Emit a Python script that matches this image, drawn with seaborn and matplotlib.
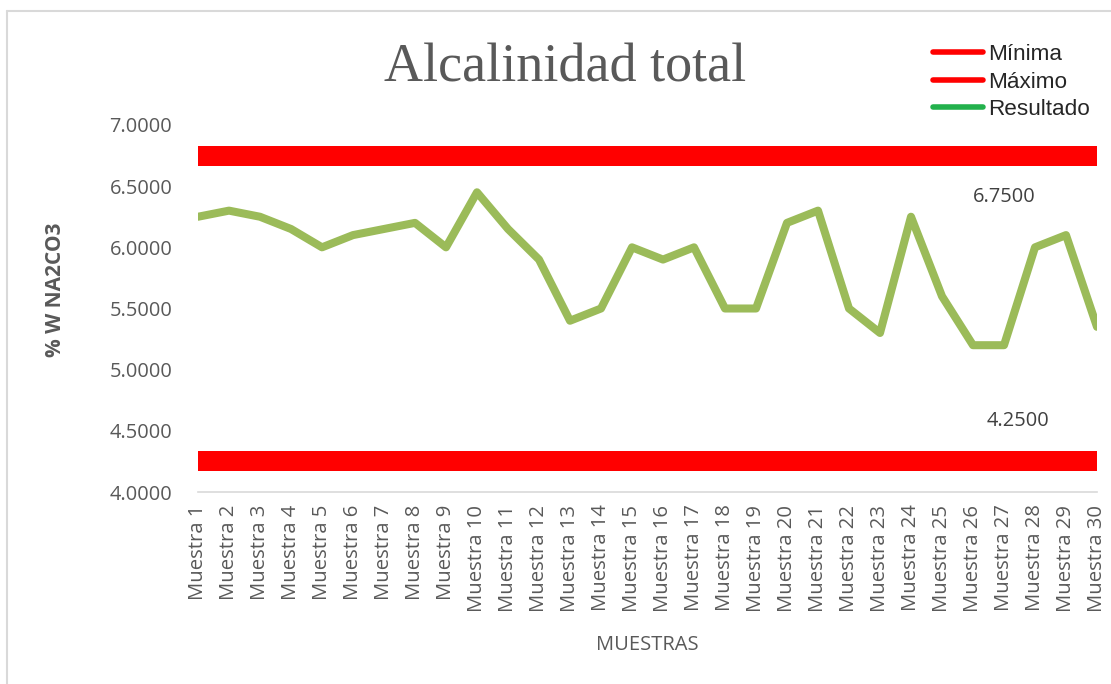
import numpy as np
import pandas as pd
import matplotlib
matplotlib.use("Agg")
import matplotlib.pyplot as plt
from matplotlib.lines import Line2D
import seaborn as sns

muestras = [f"Muestra {i}" for i in range(1, 31)]
resultado = [6.25, 6.30, 6.25, 6.15, 6.00, 6.10, 6.15, 6.20, 6.00, 6.45,
             6.15, 5.90, 5.40, 5.50, 6.00, 5.90, 6.00, 5.50, 5.50, 6.20,
             6.30, 5.50, 5.30, 6.25, 5.60, 5.20, 5.20, 6.00, 6.10, 5.35]
minima = 4.25
maximo = 6.75
yticks = [4.0, 4.5, 5.0, 5.5, 6.0, 6.5, 7.0]

df = pd.DataFrame({"pos": np.arange(len(muestras)), "muestra": muestras,
                   "resultado": resultado})
df["minima"] = minima
df["maximo"] = maximo

sns.set_style("white")
plt.rcParams["font.family"] = ["Open Sans", "DejaVu Sans"]

gray = "#595959"
fig = plt.figure(figsize=(11.11, 6.84), dpi=100)
ax = fig.add_axes([198 / 1111, 1 - 492 / 684, (1097 - 198) / 1111, 367 / 684])

sns.lineplot(data=df, x="pos", y="maximo", ax=ax, color="#ff0000",
             linewidth=14.4, solid_capstyle="butt")
sns.lineplot(data=df, x="pos", y="minima", ax=ax, color="#ff0000",
             linewidth=14.4, solid_capstyle="butt")
sns.lineplot(data=df, x="pos", y="resultado", ax=ax, color="#9bbb59",
             linewidth=5.8, solid_joinstyle="round", solid_capstyle="round")

ax.set_xlim(0, len(muestras) - 1)
ax.set_ylim(4, 7)
ax.set_yticks(yticks)
ax.set_yticklabels([f"{v:.4f}" for v in yticks], fontsize=14.4, color=gray)
ax.set_xticks(df["pos"])
ax.set_xticklabels(muestras, rotation=90, fontsize=14.6, color=gray)
ax.tick_params(axis="y", length=0, pad=18.5)
ax.tick_params(axis="x", length=0, pad=9)

for s in ["top", "right", "left"]:
    ax.spines[s].set_visible(False)
ax.spines["bottom"].set_color("#d9d9d9")
ax.spines["bottom"].set_linewidth(1.2)

ax.set_ylabel("% W NA2CO3", fontsize=15, fontweight="bold", color=gray, va="center")
ax.yaxis.set_label_coords(-0.1585, 0.55)
ax.set_xlabel("MUESTRAS", fontsize=14.5, color=gray, va="center")
ax.xaxis.set_label_coords(0.5, -0.417)

ax.annotate(f"{maximo:.4f}", xy=(26, maximo), xytext=(0, -29.5),
            textcoords="offset points", ha="center", va="center",
            fontsize=14.4, color="#404040")
ax.annotate(f"{minima:.4f}", xy=(26, minima), xytext=(10, 29),
            textcoords="offset points", ha="center", va="center",
            fontsize=14.4, color="#404040")

fig.text(565 / 1111, 1 - 82 / 684, "Alcalinidad total", ha="center",
         va="baseline", fontsize=39, color=gray, family="Liberation Serif")

handles = [Line2D([], [], color="#ff0000", linewidth=4, solid_capstyle="round"),
           Line2D([], [], color="#ff0000", linewidth=4, solid_capstyle="round"),
           Line2D([], [], color="#22b14c", linewidth=4, solid_capstyle="round")]
fig.legend(handles, ["Mínima", "Máximo", "Resultado"], loc="upper left",
           bbox_to_anchor=(922 / 1111, 1 - 33 / 684), frameon=False,
           prop={"family": "Liberation Sans", "size": 16.2},
           handlelength=2.2, handletextpad=0.25, labelspacing=0.29,
           borderpad=0, labelcolor="#262626")

# chart area border (only top and left edges are visible in the original)
fig.add_artist(Line2D([6.5 / 1111, 1], [1 - 10.5 / 684, 1 - 10.5 / 684],
                      transform=fig.transFigure, color="#d9d9d9", linewidth=1.5))
fig.add_artist(Line2D([6.5 / 1111, 6.5 / 1111], [0, 1 - 10.5 / 684],
                      transform=fig.transFigure, color="#d9d9d9", linewidth=1.5))

fig.savefig("out.png", dpi=100)
